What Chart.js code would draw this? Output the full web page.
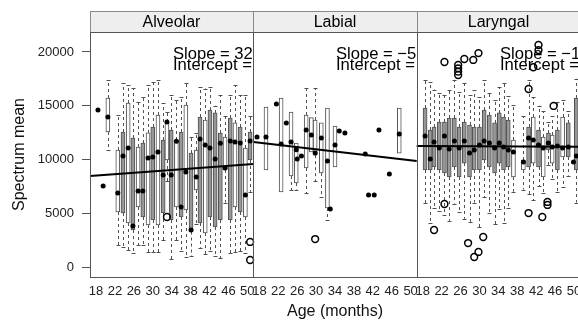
<!DOCTYPE html>
<html>
<head>
<meta charset="utf-8">
<title>Spectrum mean by age</title>
<script src="https://cdn.jsdelivr.net/npm/chart.js@4.4.1/dist/chart.umd.min.js"></script>
<style>
  html, body { margin: 0; padding: 0; background: #fff; overflow: hidden; }
  #wrap { width: 600px; height: 322px; }
</style>
</head>
<body>
<div id="wrap"><canvas id="spectrumChart" width="600" height="322"></canvas></div>
<script>
// --- 1. Data ---
const panelNames = ['Alveolar', 'Labial', 'Laryngal'];
const ageTicks = [18, 22, 26, 30, 34, 38, 42, 46, 50];
const valueTicks = [0, 5000, 10000, 15000, 20000];
const slopes = [32.4, -51, -1.9];
const intercepts = [7923, 12483, 11287];

// Alveolar boxes (age in months, five-number summary)
const alvAge = [20.5, 22.6, 23.7, 24.8, 25.8, 26.9, 27.9, 29.0, 30.0, 31.1, 32.2, 33.0, 33.9, 35.0, 36.0, 37.0, 38.1, 39.2, 40.0, 41.1, 42.1, 43.2, 44.3, 45.3, 46.4, 47.4, 48.5, 49.6, 50.6];
const alvLo  = [10880, 2050, 1860, 1580, 1300, 2050, 2050, 1400, 1400, 1400, 2500, 8000, 700, 2500, 1500, 930, 1000, 4000, 1800, 1200, 1500, 1000, 800, 6000, 1300, 1400, 1500, 1300, 7000];
const alvQ1  = [12560, 5120, 5020, 4090, 3440, 5580, 4650, 3910, 4370, 3910, 5020, 9950, 4370, 5580, 4650, 5300, 3300, 7160, 4090, 3160, 4650, 3720, 4370, 9020, 4370, 5580, 5120, 4650, 9950];
const alvMed = [13950, 6880, 10330, 11070, 3810, 7070, 7070, 10140, 10230, 10700, 8560, 13490, 8560, 11700, 5580, 8840, 3440, 8370, 11900, 11350, 11070, 10050, 11500, 9200, 11720, 11630, 11530, 6700, 11720];
const alvQ3  = [15720, 10880, 12560, 15250, 12000, 11160, 11530, 12470, 13020, 14140, 11810, 13490, 12740, 11810, 12560, 15070, 10600, 10880, 13950, 13670, 14600, 14330, 12460, 12090, 13860, 13400, 13020, 11070, 12560];
const alvHi  = [17400, 14140, 17100, 16930, 16650, 15350, 15810, 16930, 17200, 17400, 15250, 14420, 16000, 15500, 15810, 17100, 12090, 12500, 16740, 16600, 16700, 15000, 16000, 14000, 16000, 16930, 16000, 16000, 14000];
const alvDotAge = [18.4, 19.5];
const alvDotVal = [14600, 7530];
const alvOutAge = [33.0, 50.6, 50.6];
const alvOutVal = [4650, 2330, 650];

// Labial boxes
const labAge = [19.4, 22.6, 24.7, 25.8, 27.9, 29.0, 29.8, 31.1, 32.4, 34.0, 47.6];
const labLo  = [9020, 6980, 7160, 7200, 6880, 10700, 8000, 6500, 4370, 9300, 10600];
const labQ1  = [9020, 6980, 8470, 7810, 9210, 10700, 10400, 8740, 5490, 9300, 10600];
const labMed = [12090, 11440, 11630, 10900, 12740, 12280, 10600, 12000, 9860, 11350, 12370];
const labQ3  = [14880, 15720, 14420, 11530, 14140, 13900, 13670, 13400, 14790, 13120, 14790];
const labHi  = [14880, 15720, 14420, 11530, 16650, 13900, 16650, 13400, 14790, 13120, 14790];
const labDotAge = [17.5, 21.6, 23.7, 26.0, 26.9, 33.0, 34.9, 36.1, 40.4, 41.1, 42.3, 43.3, 45.5];
const labDotVal = [12090, 15160, 13400, 10050, 10330, 5400, 12650, 12460, 10510, 6700, 6700, 12740, 8650];
const labOutAge = [29.8];
const labOutVal = [2600];

// Laryngal boxes
const larAge = [18.5, 19.6, 20.4, 21.5, 22.6, 23.6, 24.7, 25.7, 26.8, 27.9, 28.9, 30.0, 31.0, 32.1, 33.2, 34.2, 35.1, 36.1, 37.2, 39.3, 40.4, 41.4, 42.5, 43.5, 44.6, 45.4, 46.5, 47.6, 48.8, 50.5];
const larLo  = [5950, 4100, 5500, 5200, 4800, 4300, 5900, 5100, 4500, 4200, 6000, 3700, 6500, 5000, 4000, 5400, 4090, 5500, 7000, 7200, 6800, 6200, 7500, 6900, 9500, 8200, 7000, 7440, 8500, 6000];
const larQ1  = [9020, 9020, 9300, 9020, 8740, 8370, 9300, 8370, 9670, 8370, 9020, 9020, 9950, 9300, 8740, 9670, 9020, 9300, 8370, 9020, 9300, 9670, 9300, 8370, 10880, 9670, 9020, 10230, 10230, 9020];
const larMed = [12190, 10050, 11630, 11070, 12190, 10980, 11720, 11070, 11720, 10600, 10880, 11350, 11720, 11530, 11070, 11530, 11160, 10880, 10700, 9770, 12000, 11810, 11350, 11070, 11530, 11160, 11260, 11070, 11160, 10330];
const larQ3  = [14790, 12740, 13020, 13490, 13490, 13860, 13860, 13020, 13490, 13210, 13020, 13020, 14600, 14140, 13400, 14330, 13950, 13670, 11810, 9950, 13020, 13950, 12740, 12090, 12460, 12280, 12740, 13950, 13400, 15720];
const larHi  = [17400, 17200, 16500, 16190, 16000, 16460, 17400, 16300, 17100, 16000, 16460, 15800, 17400, 16200, 15530, 16700, 17100, 15900, 15070, 14000, 17400, 15810, 15000, 14500, 13500, 14000, 15350, 15530, 14500, 17500];
const larDotAge = [49.9];
const larDotVal = [9770];
const larOutAge = [22.6, 25.5, 25.5, 25.5, 25.5, 26.8, 28.7, 29.8, 22.6, 20.4, 27.6, 30.8, 29.8, 28.9, 42.5, 42.5, 41.4, 40.4, 45.7, 44.4, 44.4, 40.4, 43.3];
const larOutVal = [19070, 18790, 18480, 18170, 17860, 19350, 19260, 19900, 5860, 3440, 2230, 2790, 1400, 930, 20650, 20180, 18580, 16560, 14980, 6050, 5770, 5020, 4650];

// --- 2. Panel layout: the three panels sit side by side on one linear x axis ---
const X_MIN = 16.72, X_MAX = 51.28;
const PANEL_W = X_MAX - X_MIN;
function panelX(p, age) { return p * PANEL_W + age - X_MIN; }

const boxSets = [
    { age: alvAge, lo: alvLo, q1: alvQ1, med: alvMed, q3: alvQ3, hi: alvHi },
    { age: labAge, lo: labLo, q1: labQ1, med: labMed, q3: labQ3, hi: labHi },
    { age: larAge, lo: larLo, q1: larQ1, med: larMed, q3: larQ3, hi: larHi }
];
const dotSets = [[alvDotAge, alvDotVal], [labDotAge, labDotVal], [larDotAge, larDotVal]];
const outSets = [[alvOutAge, alvOutVal], [labOutAge, labOutVal], [larOutAge, larOutVal]];

// box shading, G = grey, W = white
const shades = [
    'WW' + 'GWGWGWGWGWGWGWGWGW' + 'GGGWGWGWG',
    'WWWWWWWWWWW',
    'GGGGGGGGGGGGGGGG' + 'GGWWGWGWGWGWGG'
];
const GREY = '#979797';
const EDGE = '#505050';

// --- 3. Datasets ---
var datasets = [];

boxSets.forEach(function (s, p) {
    datasets.push({
        type: 'bar',
        data: s.age.map((a, i) => ({ x: panelX(p, a), y: [s.q1[i], s.q3[i]] })),
        backgroundColor: (c) => shades[p][c.dataIndex] === 'G' ? GREY : '#ffffff',
        borderColor: EDGE,
        borderWidth: 1,
        borderSkipped: false,
        barThickness: 4,
        grouped: false,
        order: 5
    });
});

panelNames.forEach(function (name, p) {
    datasets.push({
        type: 'line',
        data: [
            { x: panelX(p, X_MIN), y: intercepts[p] + slopes[p] * X_MIN },
            { x: panelX(p, X_MAX), y: intercepts[p] + slopes[p] * X_MAX }
        ],
        borderColor: '#000',
        borderWidth: 2,
        pointRadius: 0,
        fill: false,
        order: 4
    });
});

var medianPoints = [];
boxSets.forEach(function (s, p) {
    s.age.forEach((a, i) => medianPoints.push({ x: panelX(p, a), y: s.med[i] }));
    dotSets[p][0].forEach((a, i) => medianPoints.push({ x: panelX(p, a), y: dotSets[p][1][i] }));
});
datasets.push({
    type: 'scatter',
    data: medianPoints,
    pointRadius: 2.5,
    pointBackgroundColor: '#000',
    pointBorderWidth: 0,
    order: 2
});

var outlierPoints = [];
outSets.forEach(function (o, p) {
    o[0].forEach((a, i) => outlierPoints.push({ x: panelX(p, a), y: o[1][i] }));
});
datasets.push({
    type: 'scatter',
    data: outlierPoints,
    pointRadius: 3.4,
    pointBackgroundColor: 'rgba(0,0,0,0)',
    pointBorderColor: '#000',
    pointBorderWidth: 1.5,
    order: 1
});

// --- 4. Plugins: whiskers, strips, panel frames, slope text ---
const whiskerPlugin = {
    id: 'whiskers',
    beforeDatasetsDraw(chart) {
        const ctx = chart.ctx, xs = chart.scales.x, ys = chart.scales.y, area = chart.chartArea;
        ctx.save();
        ctx.beginPath();
        ctx.rect(area.left, area.top, area.right - area.left, area.bottom - area.top);
        ctx.clip();
        ctx.strokeStyle = EDGE;
        ctx.lineWidth = 1;
        boxSets.forEach(function (s, p) {
            s.age.forEach(function (a, i) {
                const x = Math.round(xs.getPixelForValue(panelX(p, a))) + 0.5;
                [[s.q3[i], s.hi[i]], [s.q1[i], s.lo[i]]].forEach(function (seg) {
                    if (seg[0] === seg[1]) return;
                    const y0 = ys.getPixelForValue(seg[0]), y1 = ys.getPixelForValue(seg[1]);
                    ctx.setLineDash([3, 3]);
                    ctx.beginPath();
                    ctx.moveTo(x, y0);
                    ctx.lineTo(x, y1);
                    ctx.stroke();
                    ctx.setLineDash([]);
                    ctx.beginPath();
                    ctx.moveTo(x - 2, Math.round(y1) + 0.5);
                    ctx.lineTo(x + 2, Math.round(y1) + 0.5);
                    ctx.stroke();
                });
            });
        });
        ctx.restore();
    }
};

const latticePlugin = {
    id: 'lattice',
    afterDraw(chart) {
        const ctx = chart.ctx, area = chart.chartArea, xs = chart.scales.x;
        const top = Math.round(area.top), bottom = Math.round(area.bottom);
        ctx.save();
        panelNames.forEach(function (name, p) {
            const x0 = Math.round(xs.getPixelForValue(p * PANEL_W));
            const x1 = Math.round(xs.getPixelForValue((p + 1) * PANEL_W));

            // strip
            ctx.fillStyle = '#eeeeee';
            ctx.fillRect(x0, top - 21, x1 - x0, 21);
            ctx.strokeStyle = '#8a8a8a';
            ctx.lineWidth = 1;
            ctx.strokeRect(x0 + 0.5, top - 20.5, x1 - x0, 21);
            ctx.fillStyle = '#000';
            ctx.font = '16px "Liberation Sans", Arial, sans-serif';
            ctx.textAlign = 'center';
            ctx.textBaseline = 'alphabetic';
            ctx.fillText(name, (x0 + x1) / 2, top - 5);

            // slope / intercept text, clipped to the panel
            ctx.save();
            ctx.beginPath();
            ctx.rect(x0, top, x1 - x0, bottom - top);
            ctx.clip();
            ctx.textAlign = 'left';
            ctx.font = '16.6px "Liberation Sans", Arial, sans-serif';
            const sl = slopes[p] < 0 ? '\u2212' + Math.abs(slopes[p]) : String(slopes[p]);
            ctx.fillText('Slope = ' + sl, x0 + 83, top + 27);
            ctx.fillText('Intercept = ' + intercepts[p], x0 + 83, top + 37.5);
            ctx.restore();

            // panel frame
            ctx.strokeStyle = '#555';
            ctx.strokeRect(x0 + 0.5, top + 0.5, x1 - x0, bottom - top);
        });
        ctx.restore();
    }
};

// --- 5. Render ---
Chart.defaults.font.family = '"Liberation Sans", Arial, sans-serif';
Chart.defaults.color = '#222';

const canvas = document.getElementById('spectrumChart');
new Chart(canvas.getContext('2d'), {
    type: 'bar',
    data: { datasets: datasets },
    options: {
        responsive: false,
        animation: false,
        events: [],
        layout: { padding: { top: 32, right: 20, left: 0, bottom: 0 } },
        plugins: {
            legend: { display: false },
            tooltip: { enabled: false }
        },
        scales: {
            x: {
                type: 'linear',
                min: 0,
                max: 3 * PANEL_W,
                offset: false,
                grid: { display: false, drawTicks: false },
                border: { display: false },
                afterBuildTicks: function (scale) {
                    var t = [];
                    panelNames.forEach((n, p) => ageTicks.forEach(a => t.push({ value: panelX(p, a) })));
                    scale.ticks = t;
                },
                afterFit: function (scale) {
                    scale.height = 45;
                    scale.paddingLeft = 0;
                    scale.paddingRight = 0;
                },
                ticks: {
                    autoSkip: false,
                    maxRotation: 0,
                    minRotation: 0,
                    padding: 7,
                    color: '#222',
                    font: { size: 13 },
                    callback: function (v) {
                        return String(Math.round((v % PANEL_W) + X_MIN));
                    }
                },
                title: {
                    display: true,
                    text: 'Age (months)',
                    color: '#111',
                    font: { size: 16 },
                    padding: { top: 0, bottom: 1 }
                }
            },
            y: {
                min: -930,
                max: 21860,
                afterBuildTicks: function (scale) {
                    scale.ticks = valueTicks.map(v => ({ value: v }));
                },
                afterFit: function (scale) {
                    scale.width = 90;
                    scale.paddingTop = 0;
                    scale.paddingBottom = 0;
                },
                grid: { drawOnChartArea: false, drawTicks: true, tickLength: 8, color: '#555' },
                border: { display: false },
                ticks: {
                    padding: 8,
                    color: '#222',
                    font: { size: 13 },
                    callback: v => String(v)
                },
                title: {
                    display: true,
                    text: 'Spectrum mean',
                    color: '#111',
                    font: { size: 16 },
                    padding: { top: 10, bottom: 0 }
                }
            }
        }
    },
    plugins: [whiskerPlugin, latticePlugin]
});
</script>
</body>
</html>
